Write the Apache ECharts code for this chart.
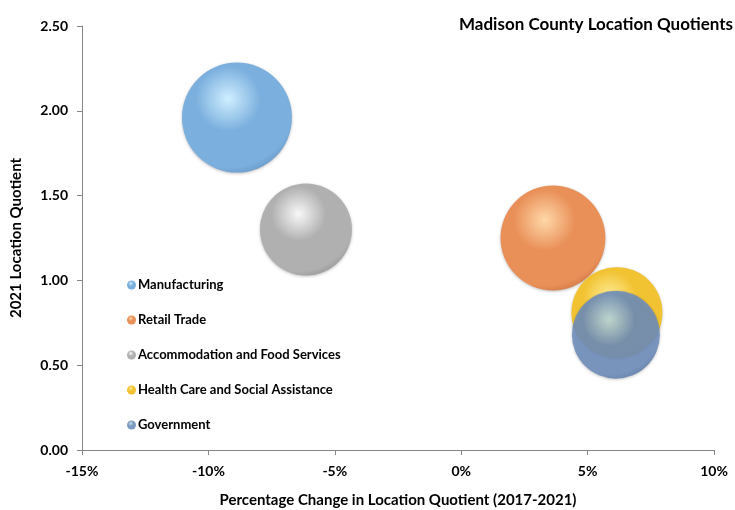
<!DOCTYPE html>
<html><head><meta charset="utf-8">
<script src="https://cdn.jsdelivr.net/npm/echarts@6/dist/echarts.min.js"></script>
<style>html,body{margin:0;padding:0;background:#fff}#c{width:735px;height:510px}</style>
</head><body><div id="c"></div>
<script>
var categories = ["Manufacturing","Retail Trade","Accommodation and Food Services","Health Care and Social Assistance","Government"];
var pctChange = [-8.87, 3.63, -6.14, 6.16, 6.12];
var lq2021 = [1.96, 1.25, 1.30, 0.81, 0.68];
var bubbleSize = [3025, 2750, 2116, 2070, 1936];
var xTicks = [-15, -10, -5, 0, 5, 10];
var yTicks = [0, 0.5, 1.0, 1.5, 2.0, 2.5];

var palette = [
  {hi:"#CFEFFF", base:"#7BAFDE", dark:"#5A86B8", op:1},
  {hi:"#FFD8A8", base:"#E98F58", dark:"#C06A3A", op:1},
  {hi:"#F8F8F8", base:"#B0B0B0", dark:"#858585", op:1},
  {hi:"#FFEE98", base:"#F1C231", dark:"#CF9E14", op:1},
  {hi:"#BEDCE0", base:"#6D8DBB", dark:"#4C6A98", op:0.88}
];
function grad(p){
  return {type:'radial', x:0.42, y:0.33, r:0.78, colorStops:[
    {offset:0, color:p.hi},{offset:0.38, color:p.base},{offset:0.8, color:p.base},{offset:1, color:p.dark}]};
}
var font = "Lato, 'Liberation Sans', sans-serif";
var series = categories.map(function(name, i){
  return {
    name: name, type:'scatter',
    data: [[pctChange[i], lq2021[i], bubbleSize[i]]],
    symbolSize: function(d){ return 2*Math.sqrt(d[2]); },
    itemStyle: {color: grad(palette[i]), opacity: palette[i].op, shadowBlur:3, shadowColor:'rgba(0,0,0,0.25)', shadowOffsetY:1},
    emphasis:{disabled:true}
  };
});
var chart = echarts.init(document.getElementById('c'), null, {renderer:'canvas'});
chart.setOption({
  animation:false,
  backgroundColor:'#ffffff',
  title:{text:'Madison County Location Quotients', left:454, top:11,
    textStyle:{fontFamily:font, fontWeight:'bold', fontSize:17, color:'#000'}},
  grid:{left:82, right:21, top:26, bottom:60, containLabel:false, outerBoundsMode:'none'},
  legend:{orient:'vertical', left:122, top:273, icon:'circle', itemWidth:9, itemHeight:9, itemGap:21,
    data:categories,
    textStyle:{fontFamily:font, fontWeight:'bold', fontSize:13, color:'#000', lineHeight:14, padding:[0,0,0,-3]}},
  xAxis:{type:'value', min:xTicks[0], max:xTicks[xTicks.length-1], interval:5,
    name:'Percentage Change in Location Quotient (2017-2021)', nameLocation:'middle', nameGap:43,
    nameTextStyle:{fontFamily:font, fontWeight:'bold', fontSize:15, color:'#000'},
    axisLine:{onZero:false, lineStyle:{color:'#868686'}}, axisTick:{show:true, length:5, lineStyle:{color:'#868686'}},
    splitLine:{show:false},
    axisLabel:{formatter:function(v){return v+'%';}, fontFamily:font, fontWeight:'bold', fontSize:14, color:'#000', margin:14}},
  yAxis:{type:'value', min:yTicks[0], max:yTicks[yTicks.length-1], interval:0.5,
    name:'2021 Location Quotient', nameLocation:'middle', nameGap:58,
    nameTextStyle:{fontFamily:font, fontWeight:'bold', fontSize:15, color:'#000'},
    axisLine:{show:true, onZero:false, lineStyle:{color:'#868686'}}, axisTick:{show:true, length:5, lineStyle:{color:'#868686'}},
    splitLine:{show:false},
    axisLabel:{formatter:function(v){return v.toFixed(2);}, fontFamily:font, fontWeight:'bold', fontSize:14, color:'#000', margin:14}},
  series: series
});
</script></body></html>
